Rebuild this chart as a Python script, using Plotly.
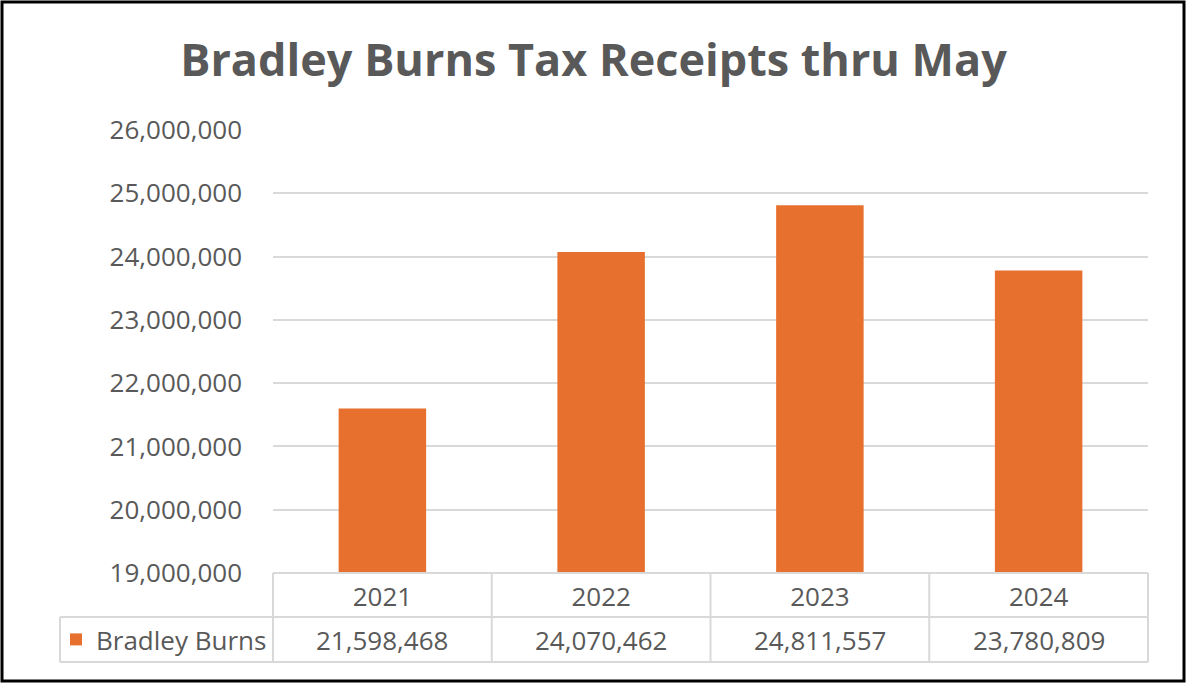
import plotly.graph_objects as go

years = ["2021", "2022", "2023", "2024"]
receipts = [21598468, 24070462, 24811557, 23780809]
series_name = "Bradley Burns"
title_text = "Bradley Burns Tax Receipts thru May"
y_ticks = [19000000, 20000000, 21000000, 22000000, 23000000, 24000000, 25000000, 26000000]

W, H = 1187, 684
L, R, T, B = 273, 1148, 130, 573  # plot area pixels
pw, ph = R - L, B - T

def px(x):
    return (x - L) / pw

def py(y):
    return (B - y) / ph

grey = "#595959"
line_grey = "#D9D9D9"
font = "Open Sans"
fs = 26

fig = go.Figure()
fig.add_trace(go.Bar(
    x=years, y=receipts, name=series_name,
    marker=dict(color="#E8702F", line=dict(width=0)),
    showlegend=True,
))

shapes = []
row1, row2 = 617, 662
n = len(years)
cat_edges = [px(L + pw * i / n) for i in range(n + 1)]
shapes.append(dict(type="line", xref="paper", yref="paper", x0=px(L), x1=px(R), y0=py(B), y1=py(B), line=dict(color=line_grey, width=2)))
shapes.append(dict(type="line", xref="paper", yref="paper", x0=px(60), x1=px(R), y0=py(row1), y1=py(row1), line=dict(color=line_grey, width=2)))
shapes.append(dict(type="line", xref="paper", yref="paper", x0=px(60), x1=px(R), y0=py(row2), y1=py(row2), line=dict(color=line_grey, width=2)))
for e in cat_edges:
    shapes.append(dict(type="line", xref="paper", yref="paper", x0=e, x1=e, y0=py(B), y1=py(row2), line=dict(color=line_grey, width=2)))
shapes.append(dict(type="line", xref="paper", yref="paper", x0=px(60), x1=px(60), y0=py(row1), y1=py(row2), line=dict(color=line_grey, width=2)))
shapes.append(dict(type="rect", xref="paper", yref="paper", x0=px(2), x1=px(1184), y0=py(2), y1=py(681), line=dict(color="black", width=3)))

annotations = []
for i, v in enumerate(receipts):
    annotations.append(dict(x=(i + 0.5) / n, xref="paper", y=py((row1 + row2) / 2), yref="paper",
                            text=f"{v:,}", showarrow=False, xanchor="center", yanchor="middle",
                            font=dict(family=font, size=fs, color=grey)))

fig.update_layout(
    width=W, height=H,
    margin=dict(l=L, r=W - R, t=T, b=H - B),
    paper_bgcolor="white", plot_bgcolor="white",
    title=dict(text=title_text, x=0.5, xanchor="center", xref="container",
               y=1 - 60 / H, yanchor="middle", yref="container",
               font=dict(family=font, size=45, color=grey, weight="bold")),
    bargap=0.6,
    xaxis=dict(type="category", range=[-0.5, 3.5], showgrid=False, showline=False,
               tickfont=dict(family=font, size=fs, color=grey), ticks="",
               ticklabelstandoff=6),
    yaxis=dict(range=[19000000, 26000000], tickvals=y_ticks,
               ticktext=[f"{t:,}" for t in y_ticks],
               showgrid=True, gridcolor=line_grey, gridwidth=2, zeroline=False,
               showline=False, ticks="", ticklabelstandoff=30,
               tickfont=dict(family=font, size=fs, color=grey)),
    legend=dict(x=px(56), xanchor="left", y=py((row1 + row2) / 2), yanchor="middle",
                font=dict(family=font, size=fs, color=grey), bgcolor="rgba(0,0,0,0)",
                itemwidth=30),
    shapes=shapes, annotations=annotations,
)

fig.write_html("out.html")
